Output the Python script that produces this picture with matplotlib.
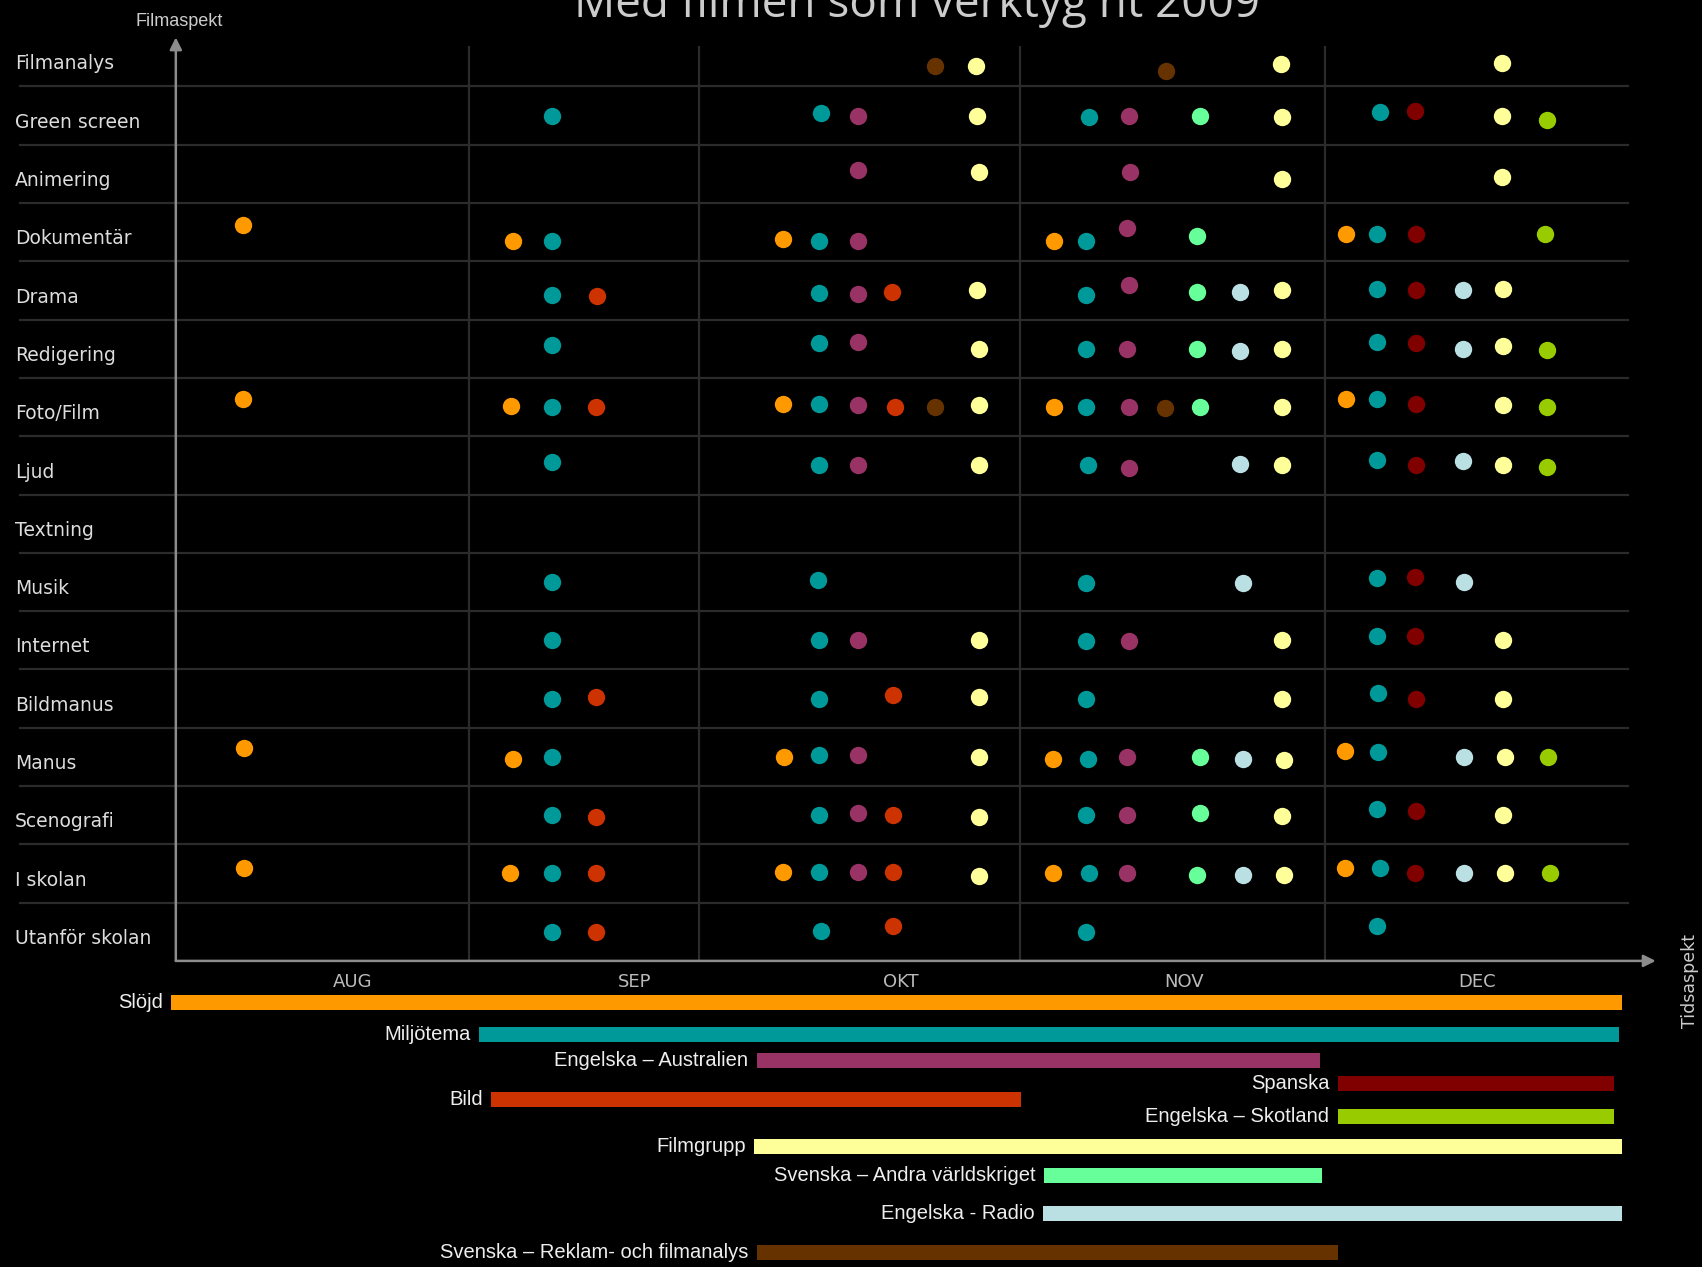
import matplotlib
matplotlib.use('Agg')
import matplotlib.pyplot as plt
from matplotlib.transforms import blended_transform_factory

plt.rcParams['font.family'] = ['DejaVu Sans']
narrow = ['Liberation Sans', 'DejaVu Sans']

# Rows (film aspects), top to bottom
rows = ['Filmanalys', 'Green screen', 'Animering', 'Dokumentär', 'Drama',
        'Redigering', 'Foto/Film', 'Ljud', 'Textning', 'Musik', 'Internet',
        'Bildmanus', 'Manus', 'Scenografi', 'I skolan', 'Utanför skolan']

# time axis runs 0..100 over the term
months = ['AUG', 'SEP', 'OKT', 'NOV', 'DEC']
month_pos = [12.2, 31.6, 49.9, 69.4, 89.6]
month_edges = [20.2, 36.0, 58.1, 79.1]

# subjects / projects (bars under the chart)
subjects = ['Slöjd', 'Miljötema', 'Engelska – Australien', 'Spanska', 'Bild',
            'Engelska – Skotland', 'Filmgrupp', 'Svenska – Andra världskriget',
            'Engelska - Radio', 'Svenska – Reklam- och filmanalys']
colors = ['#FF9900', '#009999', '#993366', '#800000', '#CC3300',
          '#99CC00', '#FFFF99', '#66FF99', '#BBE0E3', '#663300']
bar_start = [-0.3, 20.9, 40.0, 80.0, 21.7, 80.0, 39.8, 59.8, 59.7, 40.0]
bar_end = [99.6, 99.4, 78.8, 99.0, 58.2, 99.0, 99.6, 78.9, 99.6, 80.0]

# dots per subject: (row, time, small vertical offset within the row)
slojd = [('Dokumentär', 4.6, -0.13), ('Foto/Film', 4.6, -0.13), ('Manus', 4.7, -0.15), ('I skolan', 4.7, -0.10),
         ('Dokumentär', 23.2, 0.15), ('Foto/Film', 23.1, -0.02), ('Manus', 23.2, 0.04), ('I skolan', 23.0, 0.0),
         ('Dokumentär', 41.8, 0.12), ('Foto/Film', 41.8, -0.05), ('Manus', 41.9, 0.0), ('I skolan', 41.8, -0.03),
         ('Dokumentär', 60.5, 0.15), ('Foto/Film', 60.5, 0.0), ('Manus', 60.4, 0.04), ('I skolan', 60.4, 0.0),
         ('Dokumentär', 80.6, 0.04), ('Foto/Film', 80.6, -0.13), ('Manus', 80.5, -0.10), ('I skolan', 80.5, -0.10)]

miljotema = [('Green screen', 25.9, 0.0), ('Dokumentär', 25.9, 0.15), ('Drama', 25.9, 0.08),
             ('Redigering', 25.9, -0.06), ('Foto/Film', 25.9, 0.0), ('Ljud', 25.9, -0.05),
             ('Musik', 25.9, 0.0), ('Internet', 25.9, 0.0), ('Bildmanus', 25.9, 0.0),
             ('Manus', 25.9, 0.0), ('Scenografi', 25.9, 0.0), ('I skolan', 25.9, 0.0),
             ('Utanför skolan', 25.9, 0.0),
             ('Green screen', 44.4, -0.05), ('Dokumentär', 44.3, 0.15), ('Drama', 44.3, 0.05),
             ('Redigering', 44.3, -0.10), ('Foto/Film', 44.3, -0.05), ('Ljud', 44.3, 0.0),
             ('Musik', 44.2, -0.04), ('Internet', 44.3, 0.0), ('Bildmanus', 44.3, 0.0),
             ('Manus', 44.3, -0.04), ('Scenografi', 44.3, 0.0), ('I skolan', 44.3, -0.03),
             ('Utanför skolan', 44.4, -0.02),
             ('Green screen', 62.9, 0.03), ('Dokumentär', 62.7, 0.15), ('Drama', 62.7, 0.08),
             ('Redigering', 62.7, 0.0), ('Foto/Film', 62.7, 0.0), ('Ljud', 62.8, 0.0),
             ('Musik', 62.7, 0.02), ('Internet', 62.7, 0.02), ('Bildmanus', 62.7, 0.0),
             ('Manus', 62.8, 0.04), ('Scenografi', 62.7, 0.0), ('I skolan', 62.9, 0.0),
             ('Utanför skolan', 62.7, 0.0),
             ('Green screen', 82.9, -0.06), ('Dokumentär', 82.7, 0.04), ('Drama', 82.7, -0.03),
             ('Redigering', 82.7, -0.12), ('Foto/Film', 82.7, -0.13), ('Ljud', 82.7, -0.10),
             ('Musik', 82.7, -0.07), ('Internet', 82.7, -0.07), ('Bildmanus', 82.8, -0.10),
             ('Manus', 82.8, -0.08), ('Scenografi', 82.7, -0.11), ('I skolan', 82.9, -0.10),
             ('Utanför skolan', 82.7, -0.10)]

eng_australien = [('Green screen', 47.0, 0.0), ('Animering', 47.0, -0.06), ('Dokumentär', 47.0, 0.15),
                  ('Drama', 47.0, 0.06), ('Redigering', 47.0, -0.12), ('Foto/Film', 47.0, -0.04),
                  ('Ljud', 47.0, 0.0), ('Internet', 47.0, 0.0), ('Manus', 47.0, -0.04),
                  ('Scenografi', 47.0, -0.03), ('I skolan', 47.0, -0.03),
                  ('Green screen', 65.6, 0.0), ('Animering', 65.7, -0.04), ('Dokumentär', 65.5, -0.07),
                  ('Drama', 65.6, -0.10), ('Redigering', 65.5, 0.0), ('Foto/Film', 65.6, 0.0),
                  ('Ljud', 65.6, 0.05), ('Internet', 65.6, 0.02), ('Manus', 65.5, 0.0),
                  ('Scenografi', 65.5, 0.0), ('I skolan', 65.5, 0.0)]

spanska = [('Green screen', 85.3, -0.08), ('Dokumentär', 85.4, 0.04), ('Drama', 85.4, 0.0),
           ('Redigering', 85.4, -0.10), ('Foto/Film', 85.4, -0.05), ('Ljud', 85.4, 0.0),
           ('Musik', 85.3, -0.09), ('Internet', 85.3, -0.07), ('Bildmanus', 85.4, 0.0),
           ('Scenografi', 85.4, -0.07), ('I skolan', 85.3, 0.0)]

bild = [('Drama', 29.0, 0.10), ('Foto/Film', 28.9, 0.0), ('Bildmanus', 28.9, -0.03),
        ('Scenografi', 28.9, 0.04), ('I skolan', 28.9, 0.0), ('Utanför skolan', 28.9, 0.0),
        ('Drama', 49.3, 0.03), ('Foto/Film', 49.5, 0.0), ('Bildmanus', 49.4, -0.06),
        ('Scenografi', 49.4, 0.0), ('I skolan', 49.4, -0.03), ('Utanför skolan', 49.4, -0.10)]

eng_skotland = [('Green screen', 94.4, 0.08), ('Dokumentär', 94.3, 0.04), ('Redigering', 94.4, 0.02),
                ('Foto/Film', 94.4, 0.0), ('Ljud', 94.4, 0.03), ('Manus', 94.5, 0.0),
                ('I skolan', 94.6, 0.0)]

filmgrupp = [('Filmanalys', 55.1, 0.15), ('Green screen', 55.2, 0.0), ('Animering', 55.3, -0.04),
             ('Drama', 55.2, 0.0), ('Redigering', 55.3, 0.0), ('Foto/Film', 55.3, -0.04),
             ('Ljud', 55.3, 0.0), ('Internet', 55.3, 0.0), ('Bildmanus', 55.3, -0.03),
             ('Manus', 55.3, 0.0), ('Scenografi', 55.3, 0.04), ('I skolan', 55.3, 0.05),
             ('Filmanalys', 76.1, 0.12), ('Green screen', 76.2, 0.03), ('Animering', 76.2, 0.09),
             ('Drama', 76.2, 0.0), ('Redigering', 76.2, 0.0), ('Foto/Film', 76.2, 0.0),
             ('Ljud', 76.2, 0.0), ('Internet', 76.2, 0.0), ('Bildmanus', 76.2, 0.0),
             ('Manus', 76.3, 0.05), ('Scenografi', 76.2, 0.02), ('I skolan', 76.3, 0.03),
             ('Filmanalys', 91.3, 0.10), ('Green screen', 91.3, 0.0), ('Animering', 91.3, 0.05),
             ('Drama', 91.4, -0.03), ('Redigering', 91.4, -0.04), ('Foto/Film', 91.4, -0.04),
             ('Ljud', 91.4, 0.0), ('Internet', 91.4, 0.0), ('Bildmanus', 91.4, 0.0),
             ('Manus', 91.5, 0.0), ('Scenografi', 91.4, 0.0), ('I skolan', 91.5, 0.0)]

sv_varldskriget = [('Green screen', 70.5, 0.0), ('Dokumentär', 70.3, 0.06), ('Drama', 70.3, 0.03),
                   ('Redigering', 70.3, 0.0), ('Foto/Film', 70.5, 0.0), ('Manus', 70.5, 0.0),
                   ('Scenografi', 70.5, -0.03), ('I skolan', 70.3, 0.03)]

eng_radio = [('Drama', 73.3, 0.03), ('Redigering', 73.3, 0.03), ('Ljud', 73.3, -0.03),
             ('Musik', 73.5, 0.02), ('Manus', 73.5, 0.04), ('I skolan', 73.5, 0.03),
             ('Drama', 88.6, 0.0), ('Redigering', 88.6, 0.0), ('Ljud', 88.6, -0.07),
             ('Musik', 88.7, 0.0), ('Manus', 88.7, 0.0), ('I skolan', 88.7, 0.0)]

sv_reklam = [('Filmanalys', 52.3, 0.15), ('Foto/Film', 52.3, 0.0),
             ('Filmanalys', 68.2, 0.23), ('Foto/Film', 68.1, 0.02)]

dots = [slojd, miljotema, eng_australien, spanska, bild,
        eng_skotland, filmgrupp, sv_varldskriget, eng_radio, sv_reklam]

# vertical lanes of the bars (layout only)
bar_lanes = [0, 1, 1.8, 2.5, 3, 3.5, 4.43, 5.33, 6.5, 7.67]

grid_col = '#2b2b2b'
axis_col = '#8c8c8c'
text_col = '#dddddd'

fig = plt.figure(figsize=(17.02, 12.67), dpi=100, facecolor='black')

ax = fig.add_axes([0.1033, 0.2416, 0.8533, 0.7224])
ax.set_facecolor('black')
ax.set_xlim(0, 100)
ax.set_ylim(15.5, -0.2)
for s in ax.spines.values():
    s.set_visible(False)

# row separators, reaching under the labels
trans = blended_transform_factory(ax.transAxes, ax.transData)
for i in range(len(rows) - 1):
    ax.plot([-0.107, 1.0], [i + 0.5, i + 0.5], transform=trans, color=grid_col,
            lw=1.6, clip_on=False, zorder=1)
for x in month_edges:
    ax.axvline(x, color=grid_col, lw=1.6, zorder=1)

for pts, c in zip(dots, colors):
    xs = [p[1] for p in pts]
    ys = [rows.index(p[0]) + p[2] for p in pts]
    ax.plot(xs, ys, 'o', color=c, ms=12.5, mec='none', zorder=3)

# axes with arrow heads
ax.annotate('', xy=(0, 1.009), xytext=(0, 0), xycoords='axes fraction',
            arrowprops=dict(arrowstyle='-|>', color=axis_col, lw=1.8,
                            mutation_scale=18, shrinkA=0, shrinkB=0), zorder=4)
ax.annotate('', xy=(1.019, 0), xytext=(0, 0), xycoords='axes fraction',
            arrowprops=dict(arrowstyle='-|>', color=axis_col, lw=1.8,
                            mutation_scale=18, shrinkA=0, shrinkB=0), zorder=4)

ax.set_yticks([i + 0.08 for i in range(len(rows))])
ax.set_yticklabels(rows, color=text_col, fontsize=13.5)
for lbl in ax.get_yticklabels():
    lbl.set_ha('left')
ax.tick_params(axis='y', length=0, pad=116)

ax.set_xticks(month_pos)
ax.set_xticklabels(months, color='#bbbbbb', fontsize=13)
ax.tick_params(axis='x', length=0, pad=9)

# bars of the subjects
bx = fig.add_axes([0.1033, 0.0, 0.8533, 0.2245])
bx.set_xlim(0, 100)
bx.set_ylim(8.13, -0.6)
bx.axis('off')
widths = [e - s for s, e in zip(bar_start, bar_end)]
bars = bx.barh(bar_lanes, widths, left=bar_start, height=0.46, color=colors)
for b in bars:
    b.set_clip_on(False)
for name, s, lane in zip(subjects, bar_start, bar_lanes):
    bx.annotate(name, (s, lane), xytext=(-6, 0), textcoords='offset points',
                ha='right', va='center', color='#eeeeee', fontsize=14.5,
                family=narrow, annotation_clip=False)

fig.text(0.539, 0.9863, 'Med filmen som verktyg ht 2009', ha='center', va='baseline',
         fontsize=33, color='#cccccc', family=['Open Sans', 'DejaVu Sans'])
fig.text(0.1052, 0.9829, 'Filmaspekt', ha='center', va='center', fontsize=13,
         color='#cccccc', family=narrow)
fig.text(0.993, 0.226, 'Tidsaspekt', ha='center', va='center', rotation=90,
         fontsize=12.5, color='#cccccc')

fig.savefig('out.png', dpi=100, facecolor='black')
